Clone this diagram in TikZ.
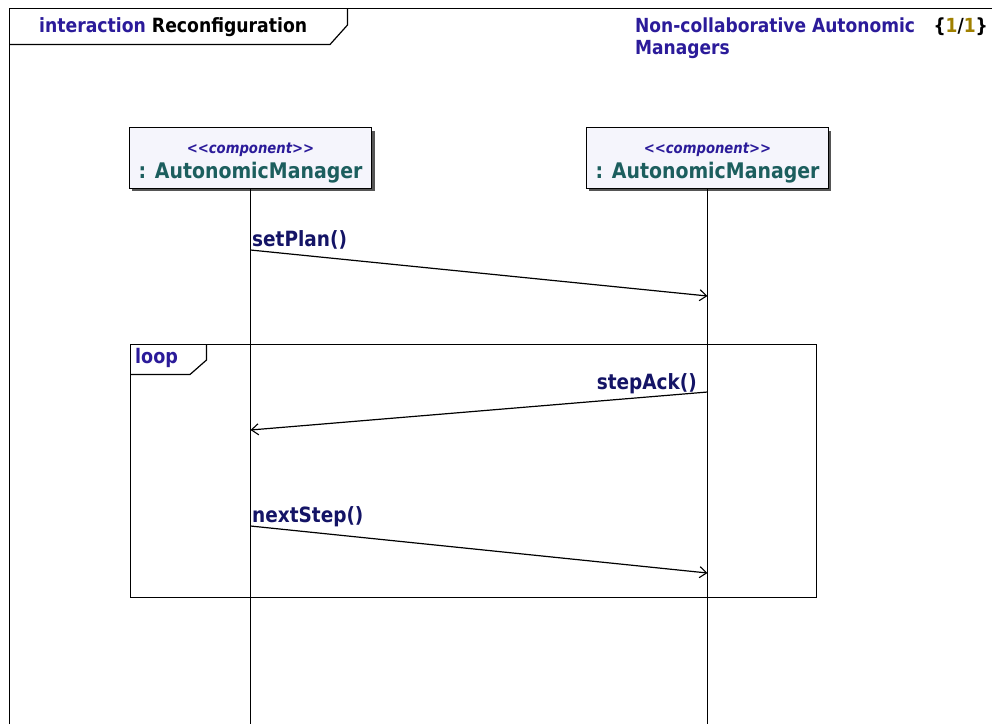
\documentclass[tikz,border=0pt]{standalone}
\usepackage{fontspec}
\setmainfont{DejaVu Sans}[FakeStretch=0.88]
\usetikzlibrary{arrows.meta}
\definecolor{kwblue}{HTML}{2B1B9A}
\definecolor{msgnavy}{HTML}{141466}
\definecolor{teal}{HTML}{1C5E5E}
\definecolor{gold}{HTML}{A08000}
\definecolor{boxfill}{HTML}{F5F5FC}
\definecolor{shadowc}{HTML}{555555}
\tikzset{
  lifebox/.style={draw=black, fill=boxfill, minimum width=242pt, minimum height=61pt,
    inner sep=0pt, line width=1.2pt},
  stereo/.style={text=kwblue, font=\bfseries\itshape\fontsize{15}{17}\selectfont, inner sep=0pt, anchor=base},
  lname/.style={text=teal, font=\bfseries\fontsize{21.5}{24}\selectfont, inner sep=0pt, anchor=base},
  lifeline/.style={draw=black, line width=1.2pt},
  msg/.style={draw=black, line width=1.2pt, -{Straight Barb[length=7pt,width=11pt,line width=1.1pt]}},
  msglabel/.style={text=msgnavy, font=\bfseries\fontsize{21}{24}\selectfont, inner sep=0pt},
  framel/.style={draw=black, line width=1.2pt}
}
\begin{document}
\begin{tikzpicture}[x=1pt,y=-1pt]
\useasboundingbox[fill=white] (0,0) rectangle (992,724);
% interaction frame
\draw[framel] (9.5,724) -- (9.5,8.5) -- (992,8.5);
\draw[framel] (347.5,8.5) -- (347.5,25) -- (330,44.5) -- (9.5,44.5);
\node[anchor=base west, inner sep=0pt, font=\bfseries\fontsize{19.6}{22}\selectfont] (title) at (39,32)
  {\textcolor{kwblue}{interaction} Reconfiguration};
\node[anchor=base west, inner sep=0pt, text=kwblue, font=\bfseries\fontsize{19.4}{22}\selectfont] (subtitle1) at (635,32)
  {Non-collaborative Autonomic};
\node[anchor=base west, inner sep=0pt, text=kwblue, font=\bfseries\fontsize{19.4}{22}\selectfont] (subtitle2) at (635,54)
  {Managers};
\node[anchor=base east, inner sep=0pt, font=\bfseries\fontsize{19.4}{22}\selectfont] (page) at (988,32)
  {\{\textcolor{gold}{1}/\textcolor{gold}{1}\}};
% lifeline heads
\fill[shadowc] (132,131) rectangle (375,191);
\fill[shadowc] (589,131) rectangle (831,191);
\node[lifebox] (A) at (250.5,158) {};
\node[lifebox] (B) at (707.5,158) {};
\node[stereo] (As) at (250.5,153) {<{}<component>{}>};
\node[lname] (An) at (250.5,178) {: AutonomicManager};
\node[stereo] (Bs) at (707.5,153) {<{}<component>{}>};
\node[lname] (Bn) at (707.5,178) {: AutonomicManager};
\coordinate (Aend) at (250.5,724);
\coordinate (Bend) at (707.5,724);
\draw[lifeline] (A.south) -- (Aend);
\draw[lifeline] (B.south) -- (Bend);
% message points
\coordinate (m1s) at (250.5,250);
\coordinate (m1e) at (707.5,296);
\coordinate (m2s) at (707.5,392);
\coordinate (m2e) at (250.5,430);
\coordinate (m3s) at (250.5,526);
\coordinate (m3e) at (707.5,573);
% loop fragment
\draw[framel] (130.5,344.5) rectangle (816.5,597.5);
\draw[framel] (206.5,344.5) -- (206.5,360) -- (190,374.5) -- (130.5,374.5);
\node[anchor=base west, inner sep=0pt, text=kwblue, font=\bfseries\fontsize{20}{22}\selectfont] (loop) at (135,363) {loop};
% messages
\draw[msg] (m1s) -- (m1e);
\node[msglabel, anchor=base west] (l1) at (252,246) {setPlan()};
\draw[msg] (m2s) -- (m2e);
\node[msglabel, anchor=base east] (l2) at (697,389) {stepAck()};
\draw[msg] (m3s) -- (m3e);
\node[msglabel, anchor=base west] (l3) at (252,522) {nextStep()};
\end{tikzpicture}
\end{document}
